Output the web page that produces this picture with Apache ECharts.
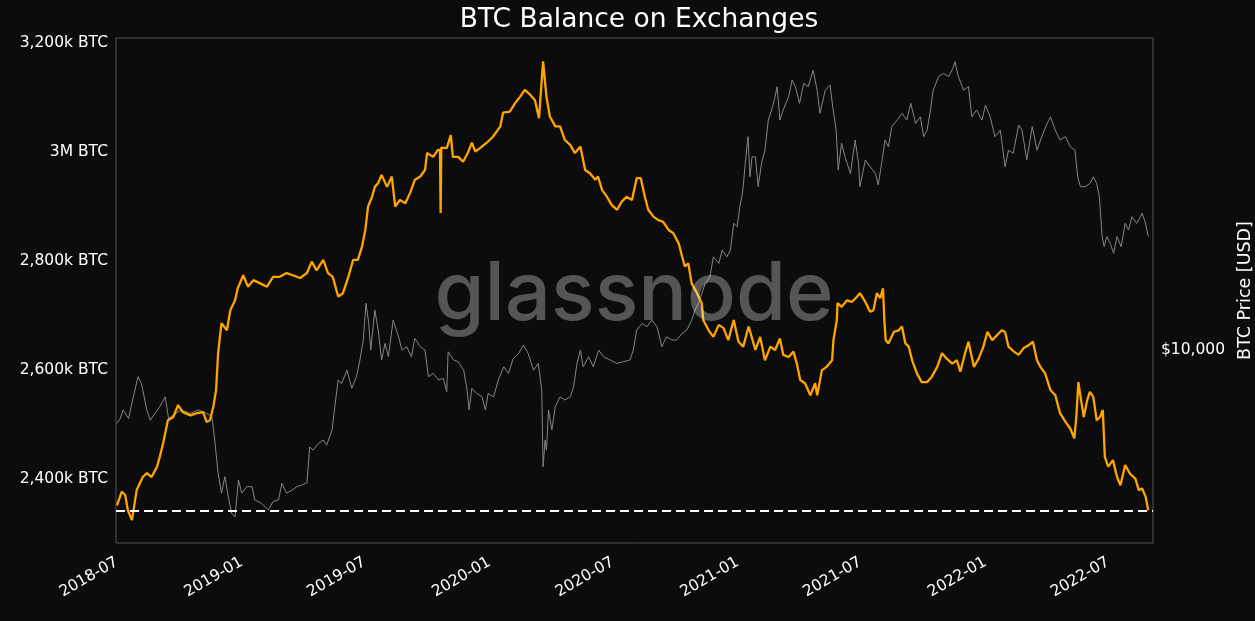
<!DOCTYPE html>
<html>
<head>
<meta charset="utf-8">
<script src="https://cdn.jsdelivr.net/npm/echarts@6/dist/echarts.min.js"></script>
<style>
html,body{margin:0;padding:0;background:#0c0c0c;}
#chart{width:1255px;height:621px;}
</style>
</head>
<body>
<div id="chart"></div>
<script>
// ---------- DATA ----------
const startDate = '2018-07-01';           // day 0
const endDay = 1527;                       // right edge of the time axis (days after start)

// BTC balance on exchanges (thousand BTC), sampled by day offset from startDate
const balanceDays = [0,7,12,16,22,29,38,44,51,59,63,68,75,83,90,97,108,118,127,132,137,142,146,149,154,162,167,174,178,186,193,201,211,221,230,240,250,259,270,280,287,294,304,311,318,326,333,341,348,355,361,366,370,376,380,385,390,398,405,410,417,425,432,439,447,454,457,466,473,476,477,478,480,486,492,495,503,510,517,523,528,535,545,554,565,569,579,587,594,601,609,616,622,628,633,638,646,653,660,668,675,683,690,697,705,709,715,722,729,737,744,751,759,766,772,778,783,791,798,805,813,820,828,833,837,842,847,855,862,864,872,879,887,894,901,909,916,923,931,941,948,955,963,970,977,982,990,997,1002,1007,1014,1022,1029,1032,1039,1046,1054,1056,1061,1062,1068,1076,1083,1091,1095,1103,1110,1115,1120,1125,1129,1131,1133,1137,1145,1152,1157,1162,1167,1172,1179,1186,1194,1201,1209,1216,1223,1231,1238,1243,1250,1255,1263,1270,1277,1283,1290,1297,1304,1309,1314,1322,1329,1336,1344,1350,1356,1361,1368,1376,1383,1390,1398,1405,1411,1414,1417,1421,1425,1430,1434,1439,1444,1449,1453,1456,1461,1468,1474,1479,1486,1493,1501,1506,1511,1516,1520];
const balanceValues = [2352,2377,2371,2343,2325,2380,2404,2411,2404,2423,2441,2466,2508,2514,2536,2523,2517,2521,2523,2505,2508,2533,2563,2631,2686,2673,2710,2728,2750,2774,2753,2765,2759,2753,2771,2771,2778,2774,2769,2778,2799,2783,2802,2778,2771,2735,2741,2771,2802,2802,2826,2857,2900,2918,2936,2943,2958,2936,2955,2900,2912,2906,2925,2949,2955,2967,2998,2991,3004,3004,2888,3008,3010,3007,3031,2991,2991,2982,2998,3017,3001,3007,3017,3028,3047,3072,3074,3090,3101,3114,3105,3095,3062,3166,3101,3065,3047,3047,3022,3013,2998,3010,2967,2961,2949,2955,2930,2918,2903,2894,2909,2918,2912,2952,2952,2918,2894,2881,2875,2872,2857,2851,2832,2808,2790,2796,2759,2741,2722,2692,2673,2661,2683,2677,2655,2692,2652,2643,2680,2637,2661,2618,2643,2637,2658,2628,2624,2634,2612,2582,2576,2554,2576,2554,2600,2606,2618,2655,2692,2723,2716,2728,2725,2735,2741,2725,2707,2710,2741,2732,2750,2692,2655,2649,2670,2673,2680,2649,2643,2618,2594,2578,2578,2588,2606,2631,2621,2612,2618,2597,2631,2652,2606,2621,2643,2670,2655,2664,2673,2670,2643,2634,2628,2640,2646,2652,2618,2606,2594,2563,2554,2521,2505,2493,2475,2514,2578,2545,2514,2545,2560,2551,2508,2514,2527,2441,2423,2435,2404,2389,2426,2410,2401,2380,2383,2368,2343];

// BTC price (USD), sampled by day offset from startDate
const priceDays = [0,4,9,17,24,31,36,44,49,56,63,71,76,86,95,108,120,132,140,144,149,154,159,164,169,174,179,184,191,199,203,213,223,230,238,243,250,258,265,272,280,284,289,297,304,309,317,321,326,331,339,346,353,358,363,367,371,374,380,385,390,395,400,407,415,420,427,434,439,447,454,459,466,474,481,486,488,496,503,511,516,519,523,530,538,543,547,555,562,570,577,584,592,599,606,614,621,626,628,631,633,636,641,646,653,660,668,673,678,683,687,695,702,710,717,727,737,746,756,761,766,774,781,788,796,803,810,818,825,833,840,847,852,857,862,867,874,879,887,892,899,904,909,914,918,921,923,926,930,933,936,941,945,950,955,960,965,970,973,977,982,990,995,1000,1006,1012,1019,1026,1032,1036,1044,1051,1055,1060,1063,1068,1073,1081,1088,1093,1095,1103,1110,1118,1122,1127,1132,1137,1142,1150,1157,1164,1170,1177,1184,1189,1194,1199,1203,1211,1218,1226,1233,1235,1240,1248,1255,1260,1267,1275,1280,1287,1294,1302,1309,1314,1321,1329,1334,1341,1349,1356,1363,1371,1376,1383,1390,1398,1405,1412,1416,1420,1427,1434,1439,1444,1448,1452,1455,1459,1464,1469,1474,1480,1486,1491,1496,1503,1511,1516,1520];
const priceValues = [6150,6300,6720,6350,7330,8380,8010,6710,6280,6570,6870,7330,6350,6570,6720,6570,6720,6570,6430,5510,4420,3870,4320,3780,3380,3310,4220,3870,4040,4040,3700,3620,3460,3660,3700,4130,3870,3950,4040,4080,4150,5260,5150,5380,5510,5320,5890,6870,8200,8010,8750,7760,8380,9360,10690,13640,11940,10000,13040,11420,9360,10450,9570,12200,10920,10000,10220,9570,10810,10220,10000,8380,8570,8200,8290,7590,9890,9360,9250,8750,7670,6720,7760,7500,7330,6720,7500,7330,8200,8950,8570,9460,9780,10340,9780,8750,9150,7670,4610,5510,5150,6720,5890,6870,7330,7180,7330,7840,9150,10000,8950,9570,8950,10000,9570,9360,9150,9250,9360,10000,11420,11940,11670,12200,11670,10220,10920,10690,10690,11170,11420,12200,13040,13640,14560,15560,16260,18570,17770,19410,18570,19410,23180,22660,25880,27670,29570,34530,41200,31570,36060,36060,29570,34530,37670,46000,49200,53750,57420,46000,49200,53750,59980,57420,51400,58700,57420,64100,56100,48100,56100,58000,50200,43000,33060,39450,36060,32270,40300,34530,29570,35300,33740,32270,29920,34530,40300,38550,44060,46000,48100,46000,51400,45000,47000,41200,43000,49200,56100,61400,62700,61400,65500,67800,61400,56100,57420,47000,49200,46000,50800,47000,41200,43000,33740,37670,36900,44500,43000,35300,44060,37670,41200,45000,47000,43000,40300,41200,38550,37670,31570,29570,29570,30200,31570,30200,27670,21230,19860,21230,20280,19000,21230,19860,23180,22180,24220,23180,24790,23180,21230];

// x-axis tick labels
const xTickLabels = ['2018-07','2019-01','2019-07','2020-01','2020-07','2021-01','2021-07','2022-01','2022-07'];
// left-axis range (thousand BTC) and right-axis range (USD, log)
const balanceMin = 2283, balanceMax = 3209;
const priceMin = 2780, priceMax = 79300;

// ---------- BUILD ----------
const DAY = 86400000;
const t0 = Date.parse(startDate + 'T00:00:00Z');
const pairs = (days, vals) => days.map((d, i) => [t0 + d * DAY, vals[i]]);
const tickTimes = xTickLabels.map(s => Date.parse(s + '-01T00:00:00Z'));
const ym = ts => { const d = new Date(ts); return d.getUTCFullYear() + '-' + String(d.getUTCMonth() + 1).padStart(2, '0'); };
const lastBalance = balanceValues[balanceValues.length - 1];

const FONT = 'DejaVu Sans';
const chart = echarts.init(document.getElementById('chart'), null, { renderer: 'canvas' });
chart.setOption({
  backgroundColor: '#0c0c0c',
  animation: false,
  textStyle: { fontFamily: FONT },
  title: {
    text: 'BTC Balance on Exchanges',
    left: 634, top: 2, textAlign: 'center',
    textStyle: { color: '#ffffff', fontSize: 26.5, fontWeight: 'normal', fontFamily: FONT }
  },
  grid: {
    left: 116, right: 102, top: 38, bottom: 78,
    show: true, borderColor: '#555555', borderWidth: 1, backgroundColor: 'transparent',
    outerBoundsMode: 'none'
  },
  xAxis: {
    type: 'value',
    min: t0 - 1.5 * DAY,
    max: t0 + endDay * DAY,
    axisLine: { show: false },
    axisTick: { show: false },
    splitLine: { show: false },
    axisLabel: {
      customValues: tickTimes,
      formatter: v => ym(v),
      rotate: 30,
      margin: 18,
      color: '#ffffff',
      fontSize: 15.5,
      fontFamily: FONT
    }
  },
  yAxis: [{
    type: 'value',
    position: 'left',
    min: balanceMin, max: balanceMax,
    axisLine: { show: false },
    axisTick: { show: false },
    splitLine: { show: false },
    axisLabel: {
      showMinLabel: false, showMaxLabel: false,
      margin: 8, color: '#ffffff', fontSize: 15.5, fontFamily: FONT,
      formatter: v => {
        const r = Math.round(v);
        if (r % 200 !== 0) return '';
        if (r === 3000) return '3M BTC';
        return r.toLocaleString('en-US') + 'k BTC';
      }
    }
  }, {
    type: 'log',
    logBase: 10,
    position: 'right',
    min: priceMin, max: priceMax,
    name: 'BTC Price [USD]',
    nameLocation: 'middle',
    nameRotate: 90,
    nameGap: 78,
    nameTextStyle: { color: '#ffffff', fontSize: 17.5, fontFamily: FONT },
    axisLine: { show: false },
    axisTick: { show: false },
    splitLine: { show: false },
    axisLabel: {
      showMinLabel: false, showMaxLabel: false,
      margin: 8, color: '#ffffff', fontSize: 15.5, fontFamily: FONT,
      formatter: v => {
        const r = Math.round(v);
        return r === 10000 ? '$' + r.toLocaleString('en-US') : '';
      }
    }
  }],
  series: [{
    name: 'BTC Price',
    type: 'line',
    yAxisIndex: 1,
    data: pairs(priceDays, priceValues),
    showSymbol: false,
    lineStyle: { color: '#858585', width: 1 },
    z: 2
  }, {
    name: 'Balance on Exchanges',
    type: 'line',
    yAxisIndex: 0,
    data: pairs(balanceDays, balanceValues),
    showSymbol: false,
    lineStyle: { color: '#ffa500', width: 2.3 },
    z: 3,
    markLine: {
      silent: true,
      symbol: 'none',
      label: { show: false },
      lineStyle: { color: '#ffffff', type: [9, 5], width: 2 },
      data: [{ yAxis: lastBalance }]
    }
  }],
  graphic: [{
    type: 'text',
    z: 100,
    silent: true,
    style: {
      text: 'glassnode',
      x: 634, y: 296,
      textAlign: 'center',
      textVerticalAlign: 'middle',
      fontSize: 81,
      fontWeight: 500,
      fontFamily: 'Inter',
      fill: 'rgba(255,255,255,0.3)'
    }
  }]
});
</script>
</body>
</html>
